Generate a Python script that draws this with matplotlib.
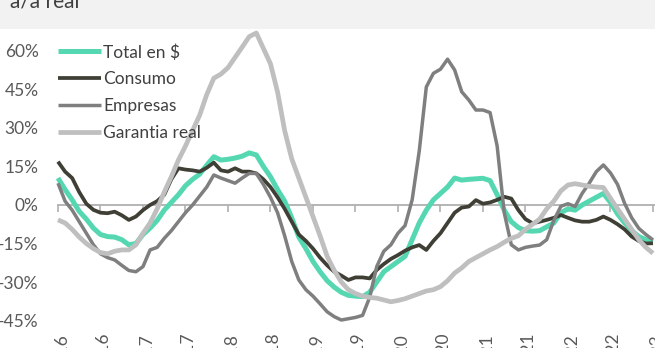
import matplotlib
matplotlib.use("Agg")
import matplotlib.pyplot as plt
from matplotlib.patches import Rectangle
from matplotlib.transforms import ScaledTranslation
import numpy as np

plt.rcParams['font.family'] = ['Lato', 'DejaVu Sans']

# Monthly year-on-year real change (%), Jan-2016 .. Jan-2023
total = [10.5, 6, 2, -2.5, -5.5, -9, -11.5, -12.3, -12.5, -13.5, -15.5, -15, -11.5, -9, -6, -2,
         1, 4, 7.5, 10, 12, 15.5, 18.8, 17.5, 17.8, 18.3, 19, 20.3, 19.5, 15, 11, 6,
         1.5, -5, -12.5, -17, -22, -26, -29.5, -32, -34, -35.2, -35.5, -35.7, -34, -30, -26, -24,
         -22, -20, -13.5, -7, -2, 2, 4.5, 7, 10.5, 9.7, 10, 10.2, 10.4, 9.5, 4, -2,
         -6.5, -8.8, -10, -10.2, -10, -8.5, -7, -3, -1.5, -2, 0, 1.5, 3, 4.5, 1, -3.5,
         -7, -10, -12.3, -13.5, -14.3]
consumo = [16.9, 13, 10.5, 5, 0.5, -1.9, -3, -3.2, -2.6, -4, -5.8, -4.5, -2, 0, 1.5, 4,
           10, 14.3, 13.8, 13.5, 13, 14.5, 16.5, 13.5, 13, 14.3, 13, 13, 12.3, 10, 7, 3,
           -1.5, -6.5, -11.5, -14, -17, -20.5, -23.5, -26, -27.5, -29.2, -28.2, -28.2, -28.6, -25.3, -23, -21,
           -19.5, -17.8, -16.5, -15.6, -17.5, -14, -11, -7, -3, -1, -0.6, 1.9, 0.5, 1, 2, 3.2,
           2.5, -2, -5.5, -7.1, -6.5, -5.8, -5, -3.9, -5, -6, -6.5, -6.5, -5.8, -4.5, -5.8, -7.5,
           -9.5, -12.3, -14, -15, -14.9]
empresas = [8.5, 1.5, -2, -6.5, -11, -15.5, -19, -20.5, -21.4, -23.5, -25.5, -26, -24, -17.5, -16.5, -13,
            -10, -6.5, -3, 0, 3.5, 7, 11.7, 10.5, 9.5, 8.5, 10.5, 12.3, 12.3, 8, 3, -3,
            -12, -22, -29.2, -33, -35.5, -38.5, -41.6, -43.5, -44.8, -44.3, -43.8, -43, -36, -24, -18, -15.5,
            -11, -8, 2, 21, 46, 51.3, 52.9, 56.8, 52.6, 44.1, 40.9, 37, 37, 36, 23, -3,
            -15.5, -17.5, -16.5, -16, -15.6, -13.5, -6, -0.5, 0.5, -0.6, 4.5, 8.5, 13, 15.6, 12.5, 8,
            0.6, -5, -9.1, -11.5, -13.6]
garantia = [-5.8, -7, -9.5, -12.5, -15, -17, -18.5, -19, -18, -17.5, -17.5, -15.5, -11, -7, -1.5, 5,
            11, 17.5, 23, 29, 35, 43, 49.4, 51, 53.5, 57.5, 61.5, 65.6, 67, 61, 55, 44,
            29, 18, 10.5, 3, -4.5, -12, -20, -25.5, -30, -33, -34.5, -35.5, -36, -36.3, -37, -37.7,
            -37.2, -36.5, -35.5, -34.5, -33.5, -33, -31.8, -29.5, -26.5, -24.5, -22, -20.5, -19, -17.5, -16.2, -14.5,
            -13, -12, -9.5, -7.5, -5.5, -1.5, 1.5, 5.5, 7.8, 8.3, 7.8, 7.3, 7, 6.8, 2.6, -1.5,
            -5.5, -9.5, -13.5, -16.5, -18.8]

series_names = ["Total en $", "Consumo", "Empresas", "Garantia real"]
series_colors = ["#55D8B1", "#3F3F36", "#7F7F7F", "#BFBFBF"]
series_widths = [3.6, 2.7, 2.5, 3.4]

months = np.arange(len(total))
tick_pos = np.arange(0, 85, 6)
years = range(16, 24)
tick_labels = []
for y in years:
    tick_labels.append(f"ene-{y}")
    if y < 23:
        tick_labels.append(f"jul-{y}")
ytick_vals = [-45, -30, -15, 0, 15, 30, 45, 60]

W, H = 655, 348
fig = plt.figure(figsize=(W / 100, H / 100), dpi=100)
fig.patch.set_facecolor("white")

ymin, ymax = -48, 69
px_per_pct = 2.567
ybot = 205 + (-ymin) * px_per_pct
ytop = 205 - ymax * px_per_pct
ax = fig.add_axes([58 / W, (H - ybot) / H, (W - 58) / W, (ybot - ytop) / H])
ax.set_facecolor("white")

for vals, name, col, lw in zip([total, consumo, empresas, garantia],
                               series_names, series_colors, series_widths):
    ax.plot(months, vals, color=col, lw=lw, label=name,
            solid_joinstyle="round", solid_capstyle="butt", clip_on=False)

ax.set_xlim(0, (W - 58) / 7.083)
ax.set_ylim(ymin, ymax)

for s in ax.spines.values():
    s.set_visible(False)

# category labels at the bottom of the plot area
ax.set_xticks(tick_pos)
ax.set_xticklabels(tick_labels, rotation=90, fontsize=12.5, color="#595959")
ax.tick_params(axis="x", length=0, pad=4)
shift = ScaledTranslation(4 / 100, 0, fig.dpi_scale_trans)
for lbl in ax.get_xticklabels():
    lbl.set_transform(lbl.get_transform() + shift)

# y labels, no axis line
ax.set_yticks(ytick_vals)
ax.set_yticklabels([f"{v}%" for v in ytick_vals], fontsize=12.5, color="#595959")
ax.tick_params(axis="y", length=0, pad=14)

# horizontal axis drawn at zero
zero_loc = (0 - ymin) / (ymax - ymin)
sec = ax.secondary_xaxis(zero_loc)
sec.set_xticks(tick_pos)
sec.set_xticklabels([])
sec.tick_params(axis="x", length=5, width=1.2, color="#B0B0B0", direction="out")
sec.spines["bottom"].set_color("#B0B0B0")
sec.spines["bottom"].set_linewidth(1.3)

leg = ax.legend(loc="upper left", bbox_to_anchor=(58 / W, 1 - 44 / H),
                bbox_transform=fig.transFigure, frameon=False, fontsize=12.5,
                handlelength=2.45, handletextpad=0.15, labelspacing=0.63,
                borderpad=0, borderaxespad=0)
for t in leg.get_texts():
    t.set_color("#404040")

# header band
fig.patches.append(Rectangle((0, 1 - 29 / H), 1, 29 / H, transform=fig.transFigure,
                             facecolor="#F2F2F2", edgecolor="none", zorder=5))
fig.text(10 / W, 1 - 7 / H, "a/a real", fontsize=15, color="#404040",
         va="baseline", ha="left", zorder=6)

fig.savefig("out.png", dpi=100)
